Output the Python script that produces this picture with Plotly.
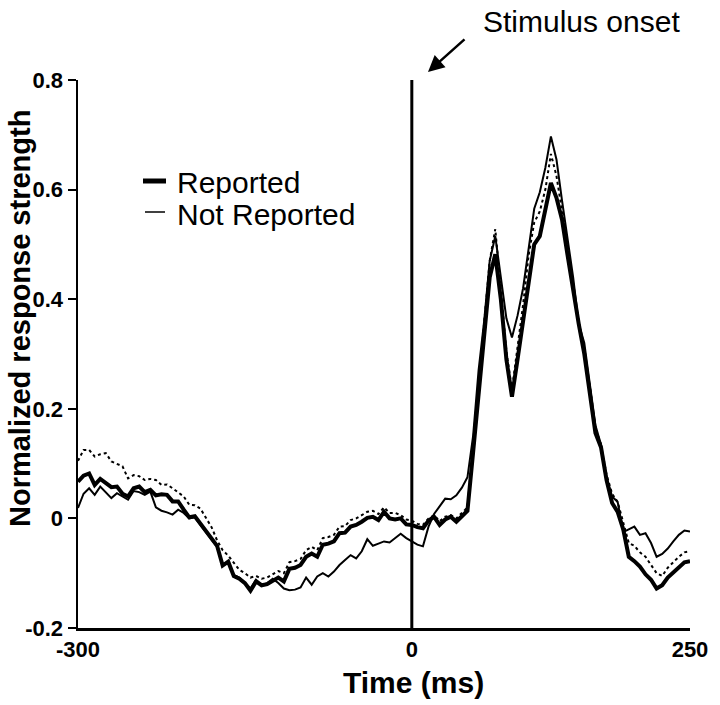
import plotly.graph_objects as go

# ---------------- data ----------------
time_ms = list(range(-300, 251, 5))

reported = [
    0.067, 0.078, 0.082, 0.061, 0.072, 0.065, 0.057, 0.058, 0.045, 0.040,
    0.055, 0.058, 0.048, 0.052, 0.042, 0.044, 0.043, 0.031, 0.031, 0.016,
    0.002, 0.004, -0.010, -0.024, -0.036, -0.050, -0.086, -0.079, -0.105, -0.110,
    -0.118, -0.132, -0.115, -0.122, -0.120, -0.113, -0.108, -0.115, -0.092, -0.090,
    -0.085, -0.070, -0.064, -0.070, -0.048, -0.046, -0.042, -0.027, -0.026, -0.015,
    -0.012, -0.006, 0.001, 0.003, -0.003, 0.012, 0.000, -0.002, 0.000, -0.011,
    -0.012, -0.016, -0.018, -0.004, 0.003, -0.012, -0.002, 0.003, -0.006, 0.004,
    0.014, 0.119, 0.220, 0.330, 0.440, 0.482, 0.400, 0.290, 0.222, 0.290,
    0.363, 0.440, 0.500, 0.515, 0.560, 0.612, 0.585, 0.545, 0.480, 0.415,
    0.355, 0.300, 0.230, 0.156, 0.130, 0.070, 0.028, 0.012, -0.020, -0.070,
    -0.078, -0.088, -0.102, -0.112, -0.128, -0.122, -0.108, -0.098, -0.088, -0.080,
    -0.078,
]

not_reported = [
    0.019, 0.045, 0.055, 0.043, 0.058, 0.048, 0.037, 0.046, 0.040, 0.034,
    0.050, 0.048, 0.043, 0.049, 0.020, 0.014, 0.011, 0.007, 0.016, 0.010,
    0.000, 0.002, -0.012, -0.026, -0.038, -0.052, -0.085, -0.080, -0.103, -0.108,
    -0.118, -0.128, -0.112, -0.122, -0.118, -0.110, -0.118, -0.128, -0.131, -0.130,
    -0.126, -0.108, -0.121, -0.106, -0.100, -0.106, -0.097, -0.085, -0.076, -0.067,
    -0.073, -0.060, -0.038, -0.050, -0.046, -0.042, -0.044, -0.036, -0.028, -0.036,
    -0.042, -0.048, -0.051, -0.015, 0.008, 0.022, 0.036, 0.035, 0.042, 0.056,
    0.075, 0.149, 0.270, 0.360, 0.470, 0.515, 0.440, 0.365, 0.330, 0.370,
    0.420, 0.495, 0.565, 0.595, 0.640, 0.697, 0.655, 0.580, 0.510, 0.440,
    0.355, 0.320, 0.245, 0.170, 0.135, 0.075, 0.040, 0.030, -0.025, -0.020,
    -0.015, -0.030, -0.027, -0.045, -0.070, -0.065, -0.055, -0.042, -0.030, -0.022,
    -0.024,
]

all_trials = [
    0.105, 0.125, 0.125, 0.113, 0.117, 0.119, 0.104, 0.100, 0.095, 0.073,
    0.079, 0.077, 0.070, 0.072, 0.070, 0.061, 0.062, 0.055, 0.047, 0.040,
    0.025, 0.024, 0.018, 0.000, -0.016, -0.040, -0.058, -0.068, -0.082, -0.094,
    -0.100, -0.108, -0.105, -0.110, -0.108, -0.102, -0.096, -0.100, -0.080, -0.078,
    -0.074, -0.058, -0.052, -0.058, -0.036, -0.034, -0.030, -0.015, -0.014, -0.003,
    0.000, 0.006, 0.012, 0.014, 0.008, 0.020, 0.010, 0.010, 0.006, -0.002,
    -0.004, -0.010, -0.012, 0.000, 0.006, -0.005, 0.003, 0.006, 0.000, 0.010,
    0.020, 0.130, 0.240, 0.350, 0.470, 0.528, 0.420, 0.305, 0.235, 0.310,
    0.390, 0.480, 0.540, 0.560, 0.600, 0.665, 0.625, 0.560, 0.495, 0.425,
    0.360, 0.305, 0.240, 0.165, 0.135, 0.080, 0.045, 0.030, -0.010, -0.045,
    -0.050, -0.062, -0.070, -0.085, -0.100, -0.105, -0.090, -0.080, -0.070, -0.062,
    -0.060,
]

x_tick_vals = [-300, 0, 250]
x_tick_text = ["-300", "0", "250"]
y_tick_vals = [-0.2, 0, 0.2, 0.4, 0.6, 0.8]
y_tick_text = ["-0.2", "0", "0.2", "0.4", "0.6", "0.8"]
stimulus_onset = 0
x_range = [-300, 250]
y_range = [-0.2, 0.8]

FONT = "Liberation Sans, Arial, Helvetica, sans-serif"

# plot-area geometry in pixels (used only to place annotations)
L, R, T, B = 78, 30, 80, 77
PW, PH = 720 - L - R, 705 - T - B


def px(xp):
    return (xp - L) / PW


def py(yp):
    return (705 - B - yp) / PH


# ---------------- figure ----------------
fig = go.Figure()
fig.add_trace(go.Scatter(x=time_ms, y=all_trials, mode="lines", name="All trials",
                         line=dict(color="black", width=2, dash="3px,3px")))
fig.add_trace(go.Scatter(x=time_ms, y=not_reported, mode="lines", name="Not Reported",
                         line=dict(color="black", width=2)))
fig.add_trace(go.Scatter(x=time_ms, y=reported, mode="lines", name="Reported",
                         line=dict(color="black", width=4)))

# stimulus onset line
fig.add_shape(type="line", xref="x", yref="y", x0=stimulus_onset, x1=stimulus_onset,
              y0=y_range[0], y1=y_range[1], line=dict(color="black", width=3))

# legend (drawn manually)
fig.add_shape(type="line", xref="paper", yref="paper", x0=px(143), x1=px(166), y0=py(181), y1=py(181),
              line=dict(color="black", width=5))
fig.add_shape(type="line", xref="paper", yref="paper", x0=px(145), x1=px(165), y0=py(212), y1=py(212),
              line=dict(color="black", width=1.5))
fig.add_annotation(xref="paper", yref="paper", x=px(175), y=py(182), text="Reported",
                   showarrow=False, xanchor="left", yanchor="middle",
                   font=dict(family=FONT, size=30, color="black"))
fig.add_annotation(xref="paper", yref="paper", x=px(175), y=py(214), text="Not Reported",
                   showarrow=False, xanchor="left", yanchor="middle",
                   font=dict(family=FONT, size=30, color="black"))

# stimulus onset label + arrow
fig.add_annotation(xref="paper", yref="paper", x=px(481), y=py(21), text="Stimulus onset",
                   showarrow=False, xanchor="left", yanchor="middle",
                   font=dict(family=FONT, size=30, color="black"))
fig.add_annotation(xref="paper", yref="paper", x=px(428), y=py(72), text=" ", showarrow=True,
                   ax=38, ay=-34, arrowhead=2, arrowsize=1.3, arrowwidth=2.5,
                   arrowcolor="black", standoff=0, font=dict(size=1))

# axis titles
fig.add_annotation(xref="paper", yref="paper", x=px(413), y=py(682),
                   text="<b>Time (ms)</b>", showarrow=False, xanchor="center", yanchor="middle",
                   font=dict(family=FONT, size=30, color="black"))
fig.add_annotation(xref="paper", yref="paper", x=px(20), y=py(319),
                   text="<b>Normalized response strength</b>", showarrow=False, textangle=-90,
                   xanchor="center", yanchor="middle",
                   font=dict(family=FONT, size=29, color="black"))

fig.update_layout(
    width=720, height=705,
    margin=dict(l=L, r=R, t=T, b=B),
    paper_bgcolor="white", plot_bgcolor="white",
    showlegend=False,
    hovermode=False,
    font=dict(family=FONT, color="black"),
)
fig.update_xaxes(range=x_range, showgrid=False, zeroline=False, showline=True,
                 linecolor="black", linewidth=2.5, ticks="inside", ticklen=8, tickwidth=2,
                 tickcolor="black", tickvals=x_tick_vals,
                 ticktext=["<b>%s</b>" % t for t in x_tick_text],
                 ticklabelstandoff=0,
                 tickfont=dict(family=FONT, size=22, color="black"))
fig.update_yaxes(range=y_range, showgrid=False, zeroline=False, showline=True,
                 linecolor="black", linewidth=2.5, ticks="outside", ticklen=8, tickwidth=2,
                 tickcolor="black", tickvals=y_tick_vals,
                 ticktext=["<b>%s</b>" % t for t in y_tick_text],
                 tickfont=dict(family=FONT, size=22, color="black"))

fig.write_html("out.html", config={"displayModeBar": False, "staticPlot": True},
               post_script="document.body.style.margin='0';")
